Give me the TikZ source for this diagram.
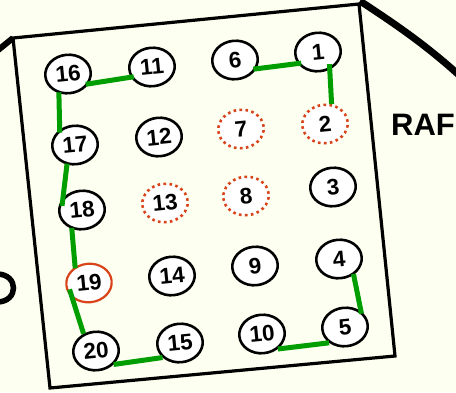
\documentclass[tikz,border=0pt]{standalone}
\usepackage{fontspec}
\setmainfont{Liberation Sans}
\usepackage{tikz}
\usetikzlibrary{shapes.geometric}
\definecolor{paper}{HTML}{FDFFF0}
\definecolor{lgreen}{HTML}{009E00}
\definecolor{rafred}{HTML}{D8431A}

\begin{document}
\begin{tikzpicture}[x=1pt, y=-1pt,
    num/.style={ellipse, draw, fill=white, line width=2.6pt, minimum width=45.5pt, minimum height=38.5pt, inner sep=0pt, rotate=5.7, font=\bfseries\fontsize{22.5}{22.5}\selectfont},
    miss/.style={num, draw=rafred, dash pattern=on 2.6pt off 3.4pt},
    hot/.style={num, draw=rafred, line width=2.2pt},
    link/.style={draw=lgreen, line width=5pt},
    frame/.style={draw, line width=3.2pt, line join=miter},
    lbl/.style={font=\bfseries\fontsize{31}{31}\selectfont, inner sep=0pt},
  ]
    \fill[paper] (0,0) rectangle (456,392);
    \useasboundingbox (0,0) rectangle (456,392);

    \draw[line width=7pt] (360,1) .. controls (392,22) and (425,44) .. (460,76);
    \draw[line width=6pt] (-3,51) -- (13,38);
    \draw[line width=5.5pt] (-3,274) .. controls (19,274) and (19,302) .. (-3,302);
    \draw[frame] (13,38) -- (359,4) -- (395,356) -- (50,388) -- cycle;

    \node[num] (c16) at (68,74) {16};
    \node[num] (c11) at (152,67) {11};
    \node[num] (c6) at (235,60) {6};
    \node[num] (c1) at (318,52) {1};
    \node[num] (c17) at (75,145) {17};
    \node[num] (c12) at (159,137) {12};
    \node[miss] (c7) at (241,129) {7};
    \node[miss] (c2) at (325,124) {2};
    \node[num] (c18) at (82,210) {18};
    \node[miss] (c13) at (165,203) {13};
    \node[miss] (c8) at (246,196) {8};
    \node[num] (c3) at (333,187) {3};
    \node[hot] (c19) at (89,283) {19};
    \node[num] (c14) at (172,276) {14};
    \node[num] (c9) at (255,266) {9};
    \node[num] (c4) at (339,259) {4};
    \node[num] (c20) at (96,351) {20};
    \node[num] (c15) at (180,343) {15};
    \node[num] (c10) at (262,334) {10};
    \node[num] (c5) at (345,327) {5};
    \node[lbl] (raf) at (423,125) {RAF};

    \draw[link, shorten <=-3pt, shorten >=-3pt] (c16.-31) -- (c11.-160);
    \draw[link, shorten <=-1pt, shorten >=-3pt] (c16.-121) -- (c17.129);
    \draw[link, shorten <=-1pt, shorten >=-8pt] (c17.-118) -- (c18.142);
    \draw[link, shorten <=-1pt, shorten >=-1.5pt] (c18.-124) -- (c19.125);
    \draw[link, shorten <=-9pt] (c19.-144) -- (c20.120);
    \draw[link] (c20.-43) -- (c15.-146);
    \draw[link] (c10.-49) -- (c5.-141);
    \draw[link, shorten <=-1pt, shorten >=-2.5pt] (c4.-53) -- (c5.39);
    \draw[link, shorten <=-3pt, shorten >=-3.5pt] (c6.-28) -- (c1.-156);
    \draw[link, shorten <=-5.5pt] (c1.-62) -- (c2.66);
  \end{tikzpicture}
\end{document}
